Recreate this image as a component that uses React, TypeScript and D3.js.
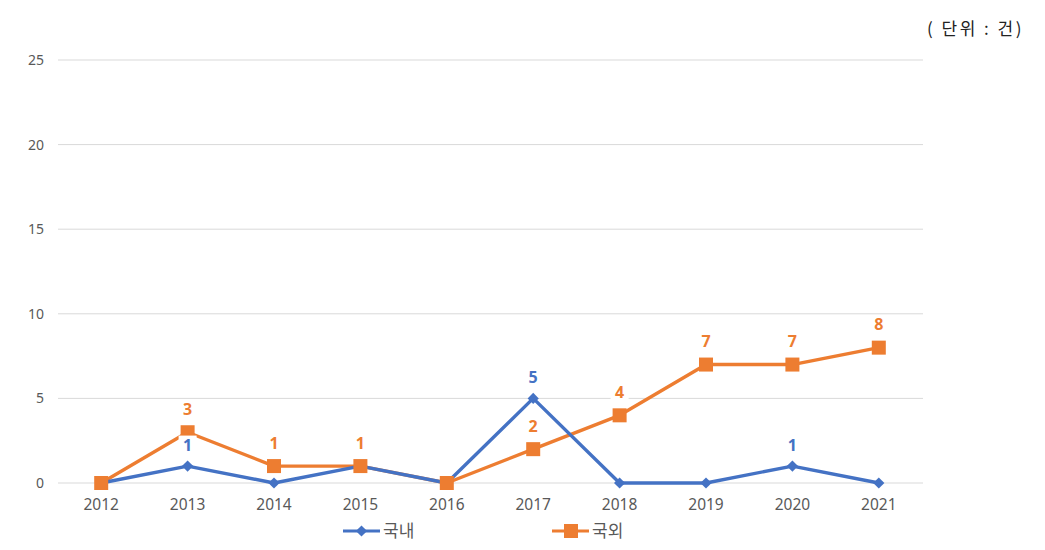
import React from 'react'
import * as d3 from 'd3'

const years = ['2012', '2013', '2014', '2015', '2016', '2017', '2018', '2019', '2020', '2021']
const domestic = [0, 1, 0, 1, 0, 5, 0, 0, 1, 0]
const foreign = [0, 3, 1, 1, 0, 2, 4, 7, 7, 8]
// which points carry a data label (zeros and hidden overlaps are left out)
const domesticLabels = [false, true, false, false, false, true, false, false, true, false]
const foreignLabels = [false, true, true, true, false, true, true, true, true, true]
const yTicks = [0, 5, 10, 15, 20, 25]

const width = 1045
const height = 550
const margin = { top: 60, right: 123, bottom: 67, left: 58 }

const BLUE = '#4472C4'
const ORANGE = '#ED7D31'
const font = '"Noto Sans", "Open Sans", sans-serif'
const krFont = '"Noto Sans CJK KR", sans-serif'

export default function App() {
  const x = d3.scaleBand<string>()
    .domain(years)
    .range([margin.left, width - margin.right])

  const y = d3.scaleLinear()
    .domain([0, 25])
    .range([height - margin.bottom, margin.top])

  const cx = (i: number) => (x(years[i]) as number) + x.bandwidth() / 2

  const line = d3.line<number>()
    .x((d, i) => cx(i))
    .y(d => y(d))

  const diamond = d3.symbol().type(d3.symbolDiamond2).size(80)

  const label = (vals: number[], show: boolean[], color: string, key: string, off: number) =>
    vals.map((v, i) => show[i] ? (
      <g key={key + i} transform={`translate(${cx(i)},${y(v) - off})`}>
        <rect x={-9} y={-9.5} width={18} height={19} fill="#fff" />
        <text textAnchor="middle" dy="0.36em" fontSize={16} fontWeight="bold" fill={color} fontFamily={font}>{v}</text>
      </g>
    ) : null)

  return (
    <svg width={width} height={height} style={{ position: 'absolute', left: 0, top: 0, background: '#fff' }}>
      <rect width={width} height={height} fill="#fff" />
      <text x={1024} y={29} textAnchor="end" dy="0.35em" fontSize={17} letterSpacing={2.5} fill="#222" fontFamily={krFont}>( 단위 : 건)</text>

      <g>
        {yTicks.map(t => (
          <g key={t}>
            <line x1={margin.left} x2={width - margin.right + 1} y1={y(t)} y2={y(t)} stroke="#d9d9d9" strokeWidth={1} />
            <text x={44} y={y(t)} dy="0.35em" textAnchor="end" fontSize={14} fill="#595959" fontFamily={font}>{t}</text>
          </g>
        ))}
      </g>

      <g>
        {years.map((yr, i) => (
          <text key={yr} x={cx(i)} y={height - margin.bottom + 22} dy="0.35em" textAnchor="middle" fontSize={15.5} fill="#595959" fontFamily={font}>{yr}</text>
        ))}
      </g>

      <path d={line(foreign) as string} fill="none" stroke={ORANGE} strokeWidth={3.4} strokeLinejoin="round" />
      <path d={line(domestic) as string} fill="none" stroke={BLUE} strokeWidth={3.4} strokeLinejoin="round" />

      {domestic.map((v, i) => (
        <path key={'d' + i} d={diamond() as string} transform={`translate(${cx(i)},${y(v)})`} fill={BLUE} />
      ))}
      {foreign.map((v, i) => (
        <rect key={'f' + i} x={cx(i) - 7} y={y(v) - 7} width={14} height={14} fill={ORANGE} />
      ))}
      {label(domestic, domesticLabels, BLUE, 'dl', 21)}
      {label(foreign, foreignLabels, ORANGE, 'fl', 23)}

      <g transform="translate(343,531)">
        <line x1={0} x2={37} y1={0} y2={0} stroke={BLUE} strokeWidth={3} />
        <path d={diamond() as string} transform="translate(18.5,0)" fill={BLUE} />
        <text x={40} dy="0.35em" fontSize={17} fill="#595959" fontFamily={krFont}>국내</text>
      </g>
      <g transform="translate(552,531)">
        <line x1={0} x2={37} y1={0} y2={0} stroke={ORANGE} strokeWidth={3} />
        <rect x={12} y={-7} width={14} height={14} fill={ORANGE} />
        <text x={40} dy="0.35em" fontSize={17} fill="#595959" fontFamily={krFont}>국외</text>
      </g>
    </svg>
  )
}
